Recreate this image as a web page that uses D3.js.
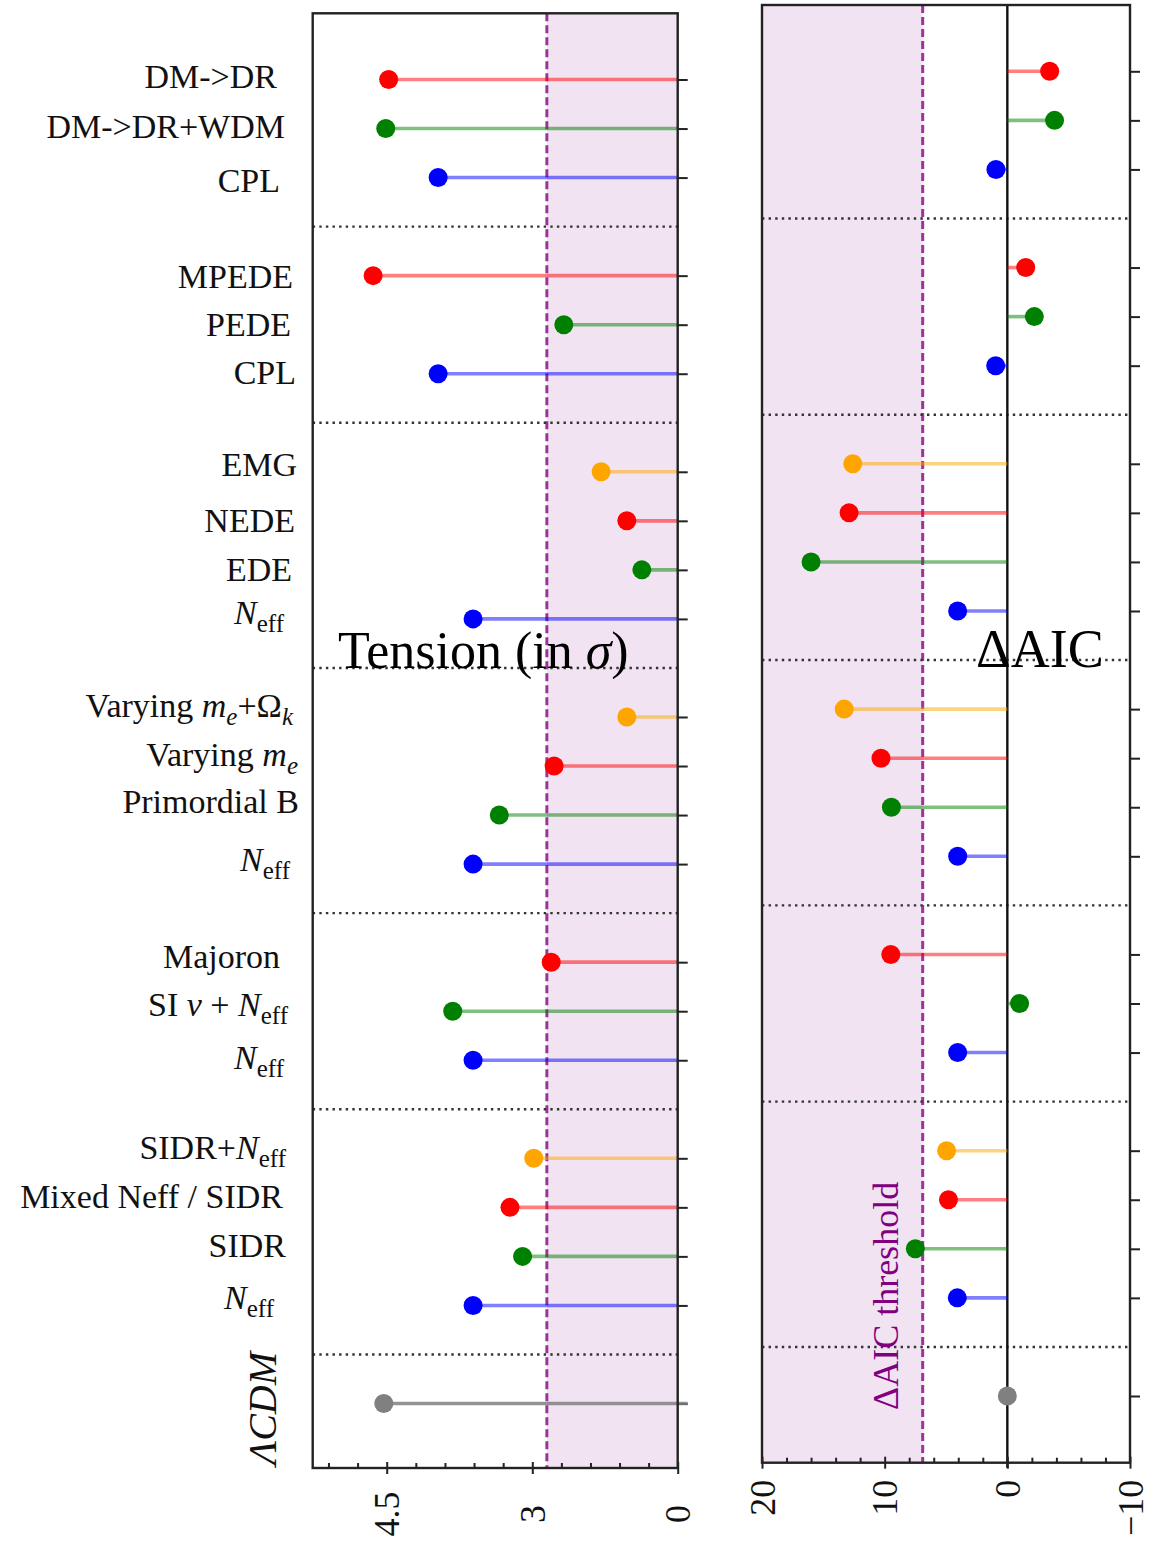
<!DOCTYPE html>
<html>
<head>
<meta charset="utf-8">
<script src="https://cdn.jsdelivr.net/npm/d3@7"></script>
<style>
  body { margin: 0; background: #fff; }
  svg { display: block; }
</style>
</head>
<body>
<div id="chart"></div>
<script>
// Row slots from the top; the empty slots (3, 7, 12, 17, 21, 26) carry the dotted separators
const rowSlots = [0, 1, 2, 4, 5, 6, 8, 9, 10, 11, 13, 14, 15, 16, 18, 19, 20, 22, 23, 24, 25, 27];
const separatorSlots = [3, 7, 12, 17, 21, 26];
const rowColors = ["red", "green", "blue", "red", "green", "blue",
  "orange", "red", "green", "blue", "orange", "red", "green", "blue",
  "red", "green", "blue", "orange", "red", "green", "blue", "gray"];

// Tension with SH0ES (in sigma)
const tensionValues = [4.48, 4.51, 3.97, 4.64, 2.35, 3.97,
  1.58, 1.05, 0.74, 3.61, 1.05, 2.55, 3.34, 3.61,
  2.61, 3.82, 3.61, 2.97, 3.23, 3.10, 3.61, 4.53];

// Delta AIC relative to LCDM
const aicValues = [-3.45, -3.85, 0.93, -1.5, -2.2, 0.95,
  12.6, 12.9, 16.0, 4.05, 13.3, 10.3, 9.45, 4.05,
  9.5, -1.0, 4.05, 4.95, 4.8, 7.5, 4.08, 0];

// Model names: pieces of [text, style]; style "" | "i" (italic) | "sub" | "isub"
const NEFF = [["N", "i"], ["eff", "sub"]];
const rowLabels = [
  [["DM->DR", ""]],
  [["DM->DR+WDM", ""]],
  [["CPL", ""]],
  [["MPEDE", ""]],
  [["PEDE", ""]],
  [["CPL", ""]],
  [["EMG", ""]],
  [["NEDE", ""]],
  [["EDE", ""]],
  NEFF,
  [["Varying ", ""], ["m", "i"], ["e", "isub"], ["+Ω", ""], ["k", "isub"]],
  [["Varying ", ""], ["m", "i"], ["e", "isub"]],
  [["Primordial B", ""]],
  NEFF,
  [["Majoron", ""]],
  [["SI ", ""], ["ν", "i"], [" +  ", ""], ["N", "i"], ["eff", "sub"]],
  NEFF,
  [["SIDR+", ""], ["N", "i"], ["eff", "sub"]],
  [["Mixed Neff / SIDR", ""]],
  [["SIDR", ""]],
  NEFF
];
const baseLabel = "ΛCDM";

const tensionMajor = [0, 3, 4.5];
const tensionMinor = [0.6, 1.2, 1.8, 2.4, 3.3, 3.6, 3.9, 4.2, 4.8, 5.1];
const aicMajor = [-10, 0, 10, 20];
const aicMinor = [-8, -6, -4, -2, 2, 4, 6, 8, 12, 14, 16, 18];
const sigmaThreshold = 2.7;
const aicThreshold = 6.9;

// layout nudges for the hand-placed model names: [right edge x, baseline offset]
const labelPlace = [[277, 8], [285, 9], [280, 14], [293, 12], [291, 11], [296, 10],
  [297, 4], [295, 11], [292, 11], [284, 5], [293, 0], [298, 0], [299, -2], [290, 7],
  [280, 6], [288, 5], [284, 9], [286, 1], [283, 1], [286, 1], [274, 4]];

const W = 1171, H = 1543;
const SERIF = "'Liberation Serif', 'Times New Roman', serif";

const svg = d3.select("#chart").append("svg")
  .attr("width", W).attr("height", H)
  .style("font-family", SERIF);

const L = { x0: 312.7, x1: 677.7, top: 13.3, bottom: 1468 };
const R = { x0: 762, x1: 1130, top: 5, bottom: 1462.7 };

// tick labels on the tension axis are not evenly spaced, so use a piecewise scale
const xT = d3.scaleLinear().domain([0, 3, 4.5]).range([677.7, 532.3, 386.7]);
const xA = d3.scaleLinear().domain([-10, 20]).range([R.x1, R.x0]);
const yL = d3.scaleLinear().domain([0, 27]).range([79.5, 1403.5]);
const yR = d3.scaleLinear().domain([0, 27]).range([71.3, 1396]);

function drawPanel(P, x, y, values, threshold, shadeFrom, shadeTo, zero) {
  const g = svg.append("g");

  // shaded region
  g.append("rect")
    .attr("x", Math.min(shadeFrom, shadeTo)).attr("y", P.top)
    .attr("width", Math.abs(shadeTo - shadeFrom)).attr("height", P.bottom - P.top)
    .attr("fill", "purple").attr("fill-opacity", 0.11);

  // threshold
  g.append("line")
    .attr("x1", x(threshold)).attr("x2", x(threshold))
    .attr("y1", P.top).attr("y2", P.bottom)
    .attr("stroke", "purple").attr("stroke-width", 3)
    .attr("stroke-dasharray", "8,4").attr("opacity", 0.78);

  // separators
  g.selectAll("line.sep").data(separatorSlots).enter().append("line")
    .attr("class", "sep")
    .attr("x1", P.x0).attr("x2", P.x1)
    .attr("y1", d => y(d)).attr("y2", d => y(d))
    .attr("stroke", "#333").attr("stroke-width", 2.4)
    .attr("stroke-dasharray", "2.4,4.2");

  if (zero) {
    g.append("line")
      .attr("x1", x(0)).attr("x2", x(0))
      .attr("y1", P.top).attr("y2", P.bottom + 5)
      .attr("stroke", "#111").attr("stroke-width", 2.4);
  }

  const rows = values.map((v, i) => ({ v: v, slot: rowSlots[i], c: rowColors[i] }));

  // row ticks on the right side
  const ya = g.append("g").attr("transform", `translate(${P.x1},0)`)
    .call(d3.axisRight(y).tickValues(rowSlots).tickSize(10).tickFormat(""));
  ya.select(".domain").remove();
  ya.selectAll("line").attr("stroke", "#222").attr("stroke-width", 2);

  // the reference stem (gray) runs on past the frame, over its tick
  g.selectAll("line.stem").data(rows).enter().append("line")
    .attr("class", "stem")
    .attr("x1", d => d.c === "gray" && d.v !== 0 ? x(0) + 10 : x(0)).attr("x2", d => x(d.v))
    .attr("y1", d => y(d.slot)).attr("y2", d => y(d.slot))
    .attr("stroke", d => d.c).attr("stroke-width", 3.6)
    .attr("stroke-opacity", d => d.c === "gray" ? 0.85 : 0.5);

  g.selectAll("circle").data(rows).enter().append("circle")
    .attr("cx", d => x(d.v)).attr("cy", d => y(d.slot)).attr("r", 9.5)
    .attr("fill", d => d.c);

  // frame
  g.append("rect")
    .attr("x", P.x0).attr("y", P.top)
    .attr("width", P.x1 - P.x0).attr("height", P.bottom - P.top)
    .attr("fill", "none").attr("stroke", "#222").attr("stroke-width", 2.4);

  return g;
}

function bottomAxis(g, P, x, major, minor, labelOffset, anchor) {
  const mi = g.append("g").attr("transform", `translate(0,${P.bottom})`)
    .call(d3.axisBottom(x).tickValues(minor).tickSize(-5).tickFormat(""));
  const inn = g.append("g").attr("transform", `translate(0,${P.bottom})`)
    .call(d3.axisBottom(x).tickValues(major).tickSize(-6).tickFormat(""));
  const out = g.append("g").attr("transform", `translate(0,${P.bottom})`)
    .call(d3.axisBottom(x).tickValues(major).tickSize(6)
      .tickFormat(d => d < 0 ? "−" + Math.abs(d) : String(d)));
  [mi, inn, out].forEach(a => {
    a.select(".domain").remove();
    a.selectAll("line").attr("stroke", "#222").attr("stroke-width", 2);
  });
  out.selectAll("text")
    .attr("y", 0).attr("dy", null)
    .attr("transform", `translate(0,${labelOffset}) rotate(-90)`)
    .attr("text-anchor", anchor)
    .attr("dominant-baseline", "central")
    .attr("fill", "#111")
    .style("font-family", SERIF)
    .style("font-size", "36px");
}

const gL = drawPanel(L, xT, yL, tensionValues, sigmaThreshold, xT(sigmaThreshold), L.x1, false);
bottomAxis(gL, L, xT, tensionMajor, tensionMinor, 46, "middle");

const gR = drawPanel(R, xA, yR, aicValues, aicThreshold, R.x0, xA(aicThreshold), true);
bottomAxis(gR, R, xA, aicMajor, aicMinor, 17, "end");

// model names
const names = svg.append("g").attr("fill", "#111");
rowLabels.forEach((pieces, i) => {
  const t = names.append("text")
    .attr("x", labelPlace[i][0])
    .attr("y", yL(rowSlots[i]) + labelPlace[i][1])
    .attr("text-anchor", "end")
    .style("font-size", "34px");
  let shift = 0;
  pieces.forEach(([txt, st]) => {
    const sub = st === "sub" || st === "isub";
    const target = sub ? 8 : 0;
    t.append("tspan").text(txt)
      .attr("dy", target - shift)
      .style("font-size", sub ? "25px" : "34px")
      .style("font-style", (st === "i" || st === "isub") ? "italic" : "normal");
    shift = target;
  });
});

svg.append("text")
  .attr("transform", `translate(276,${yL(27) + 5}) rotate(-90)`)
  .attr("text-anchor", "middle")
  .style("font-size", "40px").style("font-style", "italic")
  .attr("fill", "#111")
  .text(baseLabel);

// panel titles
const tt = svg.append("text").attr("x", 338).attr("y", 668)
  .style("font-size", "52px").attr("fill", "#000");
tt.append("tspan").text("Tension (in ");
tt.append("tspan").text("σ").style("font-style", "italic");
tt.append("tspan").text(")");

svg.append("text").attr("x", 976).attr("y", 667)
  .style("font-size", "54px").attr("fill", "#000")
  .text("ΔAIC");

svg.append("text")
  .attr("transform", `translate(898,1410) rotate(-90)`)
  .attr("text-anchor", "start")
  .style("font-size", "36px")
  .attr("fill", "purple")
  .text("ΔAIC threshold");
</script>
</body>
</html>
